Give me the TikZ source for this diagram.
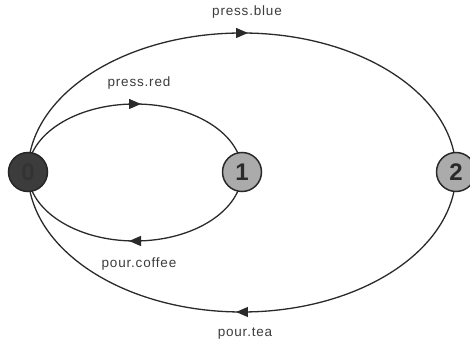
\documentclass[tikz,border=0pt]{standalone}
\usepackage{fontspec}
\setmainfont{Liberation Sans}
\newfontfamily\lblfont[LetterSpace=6]{Liberation Sans}
\usetikzlibrary{arrows.meta,decorations.markings,backgrounds}
\definecolor{linec}{HTML}{2A2A2A}
\definecolor{textc}{HTML}{3C3C3C}
\definecolor{darkfill}{HTML}{3C3C3C}
\definecolor{grayfill}{HTML}{ABABAB}
\tikzset{
  state/.style={circle, minimum size=39pt, inner sep=0pt, line width=1.5pt, draw=linec,
    font=\fontsize{24}{24}\selectfont\bfseries, text=linec},
  initstate/.style={state, fill=darkfill, draw=black!85, text=black!80},
  plainstate/.style={state, fill=grayfill},
  trans/.style={draw=linec, line width=1.3pt, postaction={decorate},
    decoration={markings, mark=at position 0.5 with {\arrow[xshift=6pt]{Triangle[length=12pt,width=10pt]}}}},
  lbl/.style={font=\lblfont\fontsize{13.5}{14}\selectfont, text=textc, inner sep=0pt}
}
\begin{document}
\begin{tikzpicture}[x=1pt,y=1pt]
\useasboundingbox (0,0) rectangle (470,342);
\node[initstate] (n0) at (28,170) {0};
\node[plainstate] (n1) at (242,170) {1};
\node[plainstate] (n2) at (456,170) {2};
\begin{scope}[on background layer]
\draw[trans] (n0.center) arc[start angle=180, end angle=0, x radius=214, y radius=139];
\draw[trans] (n2.center) arc[start angle=0, end angle=-180, x radius=214, y radius=140];
\draw[trans] (n0.center) arc[start angle=180, end angle=0, x radius=107, y radius=68];
\draw[trans] (n1.center) arc[start angle=0, end angle=-180, x radius=107, y radius=69];
\end{scope}
\node[lbl] (lblue) at (247,330) {press.blue};
\node[lbl] (lred) at (139,259) {press.red};
\node[lbl] (lcoffee) at (139,78) {pour.coffee};
\node[lbl] (ltea) at (245,8) {pour.tea};
\end{tikzpicture}
\end{document}
